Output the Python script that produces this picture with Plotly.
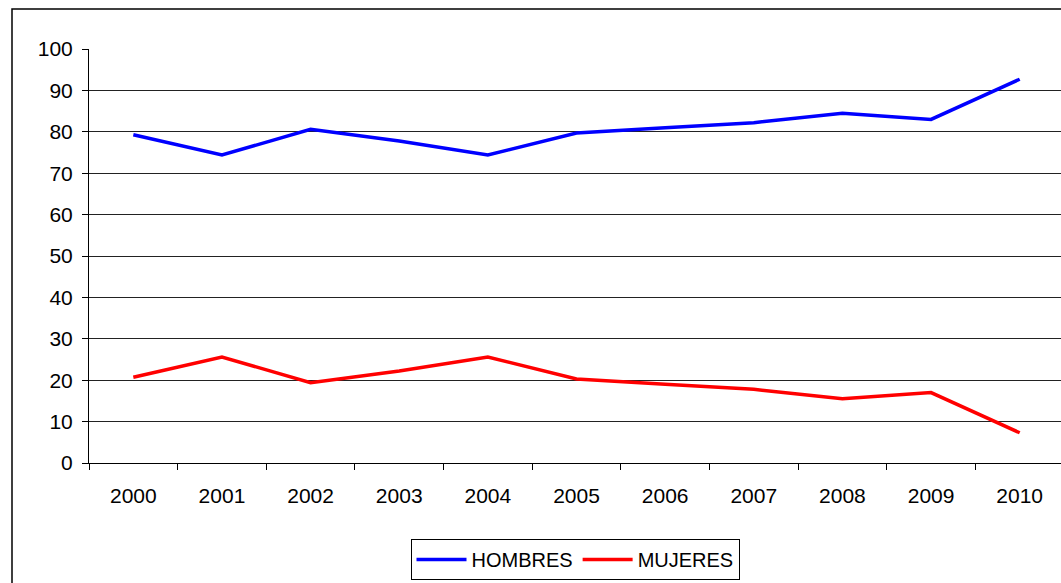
import plotly.graph_objects as go

years = ["2000", "2001", "2002", "2003", "2004", "2005", "2006", "2007", "2008", "2009", "2010"]
hombres = [79.3, 74.4, 80.6, 77.8, 74.4, 79.7, 81.0, 82.2, 84.5, 83.0, 92.7]
mujeres = [20.7, 25.6, 19.4, 22.2, 25.6, 20.3, 19.0, 17.8, 15.5, 17.0, 7.3]
y_ticks = [0, 10, 20, 30, 40, 50, 60, 70, 80, 90, 100]

FONT = "Liberation Sans, Arial, sans-serif"

W, H = 1061, 583
L, T, B = 89, 49, 120
PW, PH = W - L, H - T - B

fig = go.Figure()
fig.add_trace(go.Scatter(x=years, y=hombres, name="HOMBRES", mode="lines",
                         line=dict(color="#0000ff", width=3.5)))
fig.add_trace(go.Scatter(x=years, y=mujeres, name="MUJERES", mode="lines",
                         line=dict(color="#ff0000", width=3.5)))

fig.update_layout(
    width=W, height=H,
    margin=dict(l=L, r=0, t=T, b=B, autoexpand=False),
    paper_bgcolor="white", plot_bgcolor="white",
    font=dict(family=FONT, size=21, color="black"),
    showlegend=True,
    legend=dict(
        orientation="h", x=0.5, xanchor="center", y=-76 / PH, yanchor="top",
        bordercolor="black", borderwidth=1, bgcolor="white",
        font=dict(size=20), itemwidth=50,
    ),
    xaxis=dict(
        type="category", range=[-0.5, 10.466],
        showgrid=False, showline=True, linecolor="black", linewidth=1,
        ticks="outside", tickson="boundaries", ticklen=6, tickcolor="black",
        ticklabelstandoff=14,
    ),
    yaxis=dict(
        range=[0, 100], tickvals=y_ticks,
        showgrid=True, gridcolor="#222222", gridwidth=1,
        showline=True, linecolor="black", linewidth=1,
        ticks="outside", ticklen=6, tickcolor="black",
        ticklabelstandoff=5, zeroline=False,
    ),
)

# outer chart border (extends past the right/bottom of the image)
fig.add_shape(type="rect", xref="paper", yref="paper",
              x0=(12 - L) / PW, x1=1.05, y0=-0.5, y1=(PH + T - 9) / PH,
              line=dict(color="black", width=1.5), layer="below")

# drop the default page margin so the figure sits at the window's corner
fig.write_html(
    "out.html",
    config={"displayModeBar": False},
    post_script="document.body.style.margin='0';document.body.style.overflow='hidden';",
)
